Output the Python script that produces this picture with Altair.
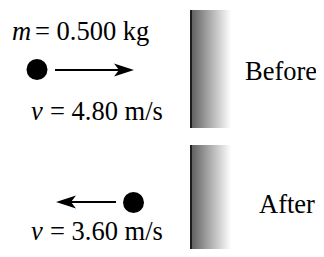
import altair as alt
import pandas as pd

# Diagram content (screen-pixel coordinates of the scene)
ball_x = [37, 133.5]
ball_y = [69.5, 202.5]

shaft_x = [55, 70]
shaft_x2 = [124, 116]
shaft_y = [70, 202]

head_x = [124, 66]
head_y = [70, 202]
head_dir = ["right", "left"]

wall_x = [191, 191]
wall_x2 = [231, 231]
wall_y = [10, 145]
wall_y2 = [128, 257]

italic_txt = ["m", "v", "v"]
italic_x = [12, 31, 31]
italic_y = [40, 120, 240]

plain_txt = ["= 0.500 kg", "= 4.80 m/s", "= 3.60 m/s", "Before", "After"]
plain_x = [35, 50, 50, 245, 259]
plain_y = [40, 120, 240, 80, 213]

FONT = "Liberation Serif"
FS = 26.5

xs = alt.Scale(domain=[8, 316], range=[0, 308], nice=False, zero=False)
ys = alt.Scale(domain=[249, 8], range=[241, 0], nice=False, zero=False)

def X(f, **kw):
    return alt.X(f, type="quantitative", scale=xs, axis=None, **kw)

def Y(f, **kw):
    return alt.Y(f, type="quantitative", scale=ys, axis=None, **kw)

walls = pd.DataFrame({"x": wall_x, "x2": wall_x2, "y": wall_y, "y2": wall_y2})
grad = alt.Gradient(
    gradient="linear",
    stops=[
        alt.GradientStop(color="#5e5e5e", offset=0),
        alt.GradientStop(color="#a8a8a8", offset=0.45),
        alt.GradientStop(color="#ffffff", offset=1),
    ],
    x1=0, x2=1, y1=0, y2=0,
)
wall = alt.Chart(walls).mark_rect(color=grad, strokeWidth=0, clip=True).encode(
    x=X("x"), x2="x2", y=Y("y"), y2="y2"
)
edge = alt.Chart(walls).mark_rule(color="#1e1e1e", strokeWidth=2, clip=True).encode(
    x=X("x"), y=Y("y"), y2="y2"
)

balls = pd.DataFrame({"x": ball_x, "y": ball_y})
ball = alt.Chart(balls).mark_circle(color="black", opacity=1, size=440).encode(
    x=X("x"), y=Y("y")
)

shafts = pd.DataFrame({"x": shaft_x, "x2": shaft_x2, "y": shaft_y})
shaft = alt.Chart(shafts).mark_rule(color="black", strokeWidth=2.2).encode(
    x=X("x"), x2="x2", y=Y("y")
)

heads = pd.DataFrame({"x": head_x, "y": head_y, "d": head_dir})
right_path = "M1,0 L-1,-0.65 L-0.5,0 L-1,0.65 Z"
left_path = "M-1,0 L1,-0.65 L0.5,0 L1,0.65 Z"
head_r = alt.Chart(heads).transform_filter(alt.datum.d == "right").mark_point(
    shape=right_path, filled=True, color="black", opacity=1, size=400, strokeWidth=0
).encode(x=X("x"), y=Y("y"))
head_l = alt.Chart(heads).transform_filter(alt.datum.d == "left").mark_point(
    shape=left_path, filled=True, color="black", opacity=1, size=400, strokeWidth=0
).encode(x=X("x"), y=Y("y"))

it = pd.DataFrame({"t": italic_txt, "x": italic_x, "y": italic_y})
itext = alt.Chart(it).mark_text(
    font=FONT, fontSize=FS, fontStyle="italic", align="left",
    baseline="alphabetic", color="black"
).encode(x=X("x"), y=Y("y"), text="t:N")

pl = pd.DataFrame({"t": plain_txt, "x": plain_x, "y": plain_y})
ptext = alt.Chart(pl).mark_text(
    font=FONT, fontSize=FS, align="left", baseline="alphabetic", color="black"
).encode(x=X("x"), y=Y("y"), text="t:N")

chart = alt.layer(wall, edge, shaft, head_r, head_l, ball, itext, ptext).properties(
    width=308, height=241, padding=0,
    autosize=alt.AutoSizeParams(type="none"),
    background="white",
).configure_view(stroke=None)

chart.save("out.html", embed_options={"renderer": "svg", "actions": False})
